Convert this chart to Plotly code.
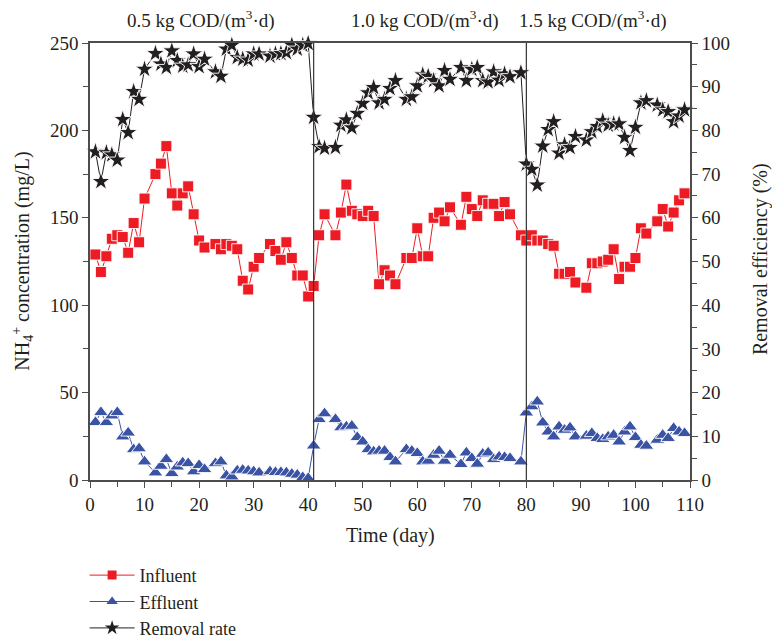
import plotly.graph_objects as go

days = (list(range(1, 11)) + list(range(12, 22)) + list(range(23, 32)) + list(range(33, 41))
        + [41, 42, 43] + list(range(45, 57)) + list(range(58, 67)) + list(range(68, 78)) + [79, 80]
        + list(range(81, 90)) + list(range(91, 103)) + list(range(104, 110)))

influent = [129, 119, 128, 138, 140, 139, 130, 147, 136, 161,
            175, 181, 191, 164, 157, 164, 168, 152, 137, 133,
            135, 132, 135, 134, 132, 114, 109, 122, 127,
            135, 131, 126, 136, 127, 117, 117, 105,
            111, 140, 152,
            140, 153, 169, 154, 152, 151, 154, 151, 112, 120, 117, 112,
            127, 127, 144, 128, 128, 150, 153, 148, 156,
            146, 162, 155, 151, 160, 158, 158, 151, 159, 152,
            140, 137,
            140, 137, 137, 135, 134, 118, 118, 119, 113,
            110, 124, 124, 125, 126, 132, 115, 122, 122, 127, 144, 141,
            148, 155, 145, 153, 160, 164]

effluent = [33, 38.7, 33, 36.8, 38.7, 24.8, 27, 17.5, 18, 10.5,
            4.2, 8, 11.8, 3.8, 7.6, 9.9, 9.5, 4.8, 8.4, 6.1,
            9.5, 10.5, 2.5, 1.9, 5.3, 5.7, 5.3, 4.8, 4.2,
            4.8, 4.4, 4.4, 4.2, 3.4, 2.9, 1.5, 1.0,
            19.6, 34.7, 38,
            34.7, 30, 30.5, 30.9, 24.4, 21.9, 17.5, 16.2, 16.6, 16.6, 13, 10.5,
            17.5, 16.6, 15.3, 10.5, 10.9, 14.3, 16.6, 10.9, 14.3,
            9, 15.6, 12.4, 9.2, 14.9, 15.6, 11.8, 13.3, 13, 12.4,
            10.5, 38.5,
            42, 44.8, 32.8, 27.6, 24.8, 30.5, 28.6, 29.9, 24.8,
            25.2, 26.7, 23.9, 23.3, 24.8, 25.7, 21.9, 27.6, 30.5, 24.4, 20, 19.5,
            22.9, 25.7, 23.9, 29.6, 27.6, 26.7]

removal = [75.1, 68.3, 74.9, 74.4, 73.2, 82.5, 79.5, 88.9, 87.1, 94,
           97.6, 95.2, 94.4, 98.2, 96, 94.7, 95, 97.5, 94.6, 96.3,
           93.4, 92.4, 98.6, 99.5, 96.7, 96.3, 96.1, 97.5, 97.5,
           97, 97.5, 97.6, 97.8, 99.5, 98.6, 99.5, 99.9,
           83, 76.3, 75.9,
           76.1, 81.2, 82.4, 80.6, 83.9, 86.2, 88.6, 89.8, 86.3, 87.1, 89.6, 91.4,
           87.1, 87.7, 90.2, 92.7, 92.4, 91.4, 90.2, 93.7, 91.7,
           94.4, 91.4, 94, 94.4, 91.4, 91.1, 93.4, 91.5, 92.9, 92.3,
           93.2, 72.3,
           71.1, 67.5, 76.4, 80.2, 82, 74.8, 76.7, 76.1, 78.6,
           77.8, 79.7, 80.9, 82.2, 81.2, 81.5, 81.5, 78.4, 75.4, 80.7, 86.3, 86.8,
           85.8, 84.7, 84.3, 82, 83.3, 84.7]

series_names = ["Influent", "Effluent", "Removal rate"]
phase_bounds = [41, 80]
phase_labels = ["0.5 kg COD/(m<sup>3</sup>·d)", "1.0 kg COD/(m<sup>3</sup>·d)", "1.5 kg COD/(m<sup>3</sup>·d)"]
phase_label_x = [20.3, 61.5, 92.3]

FONT = "Liberation Serif"
TXT = "#231F20"
RED = "#ED1C24"
BLUE = "#3A53A4"
BLACK = "#231F20"
AX = "#4D4D4D"

styles = [
    dict(color=RED, symbol="square", size=11, yaxis="y"),
    dict(color=BLUE, symbol="triangle-up", size=13, yaxis="y"),
    dict(color=BLACK, symbol="star", size=14, yaxis="y2"),
]
legend_sizes = [9, 10, 11]

fig = go.Figure()
for name, vals, st in zip(series_names, [influent, effluent, removal], styles):
    fig.add_trace(go.Scatter(x=days, y=vals, name=name, mode="lines+markers", yaxis=st["yaxis"],
                             line=dict(color=st["color"], width=1),
                             marker=dict(symbol=st["symbol"], size=st["size"], color=st["color"],
                                         line=dict(color="white", width=0.9)),
                             cliponaxis=False, showlegend=False))
# legend entries (smaller symbols, as in the original legend)
for name, st, ls in zip(series_names, styles, legend_sizes):
    fig.add_trace(go.Scatter(x=[None], y=[None], name=name, mode="lines+markers", yaxis=st["yaxis"],
                             line=dict(color=st["color"], width=1),
                             marker=dict(symbol=st["symbol"], size=ls, color=st["color"]),
                             showlegend=True))

for b in phase_bounds:
    fig.add_shape(type="line", xref="x", yref="paper", x0=b, x1=b, y0=0, y1=1,
                  line=dict(color="#333333", width=1.2))

for lbl, lx in zip(phase_labels, phase_label_x):
    fig.add_annotation(x=lx, xref="x", y=1.053, yref="paper", text=lbl, showarrow=False,
                       yanchor="middle", font=dict(family=FONT, size=19, color=TXT))

# axis titles as annotations for precise placement
fig.add_annotation(x=0.5, xref="paper", y=-0.126, yref="paper", text="Time (day)", showarrow=False,
                   font=dict(family=FONT, size=20, color=TXT), yanchor="middle")
fig.add_annotation(x=-0.113, xref="paper", y=0.5, yref="paper",
                   text="NH<sub>4</sub><sup>+</sup> concentration (mg/L)", showarrow=False, textangle=-90,
                   font=dict(family=FONT, size=20, color=TXT), xanchor="center", yanchor="middle")
fig.add_annotation(x=1.118, xref="paper", y=0.505, yref="paper",
                   text="Removal efficiency (%)", showarrow=False, textangle=-90,
                   font=dict(family=FONT, size=20, color=TXT), xanchor="center", yanchor="middle")

axis_common = dict(showgrid=False, zeroline=False, showline=True, linecolor=AX, linewidth=1.5,
                   ticks="outside", ticklen=6, tickcolor=AX, tickwidth=1.2,
                   tickfont=dict(family=FONT, size=19, color=TXT))

fig.update_layout(
    width=772, height=642,
    margin=dict(l=90, r=82, t=43, b=162, autoexpand=False),
    paper_bgcolor="white", plot_bgcolor="white",
    font=dict(family=FONT, size=17, color=TXT),
    xaxis=dict(range=[0, 110], dtick=10, tick0=0, mirror=True,
               minor=dict(dtick=5, ticks="outside", ticklen=5, tickcolor=AX),
               **axis_common),
    yaxis=dict(range=[0, 250], dtick=50, tick0=0,
               minor=dict(dtick=25, ticks="outside", ticklen=5, tickcolor=AX),
               **axis_common),
    yaxis2=dict(range=[0, 100], dtick=10, tick0=0, overlaying="y", side="right",
                minor=dict(dtick=5, ticks="outside", ticklen=5, tickcolor=AX),
                **axis_common),
    legend=dict(x=-0.009, y=-0.176, xanchor="left", yanchor="top", orientation="v",
                font=dict(family=FONT, size=18, color=TXT), itemwidth=45,
                tracegroupgap=0, bgcolor="rgba(0,0,0,0)"),
    showlegend=True,
)

# remove the browser's default 8px page margin so the 772x642 figure fills the window exactly
fig.write_html("out.html", config={"displayModeBar": False},
               post_script="document.documentElement.style.overflow='hidden';"
                           "document.body.style.margin='0px';document.body.style.overflow='hidden';")
